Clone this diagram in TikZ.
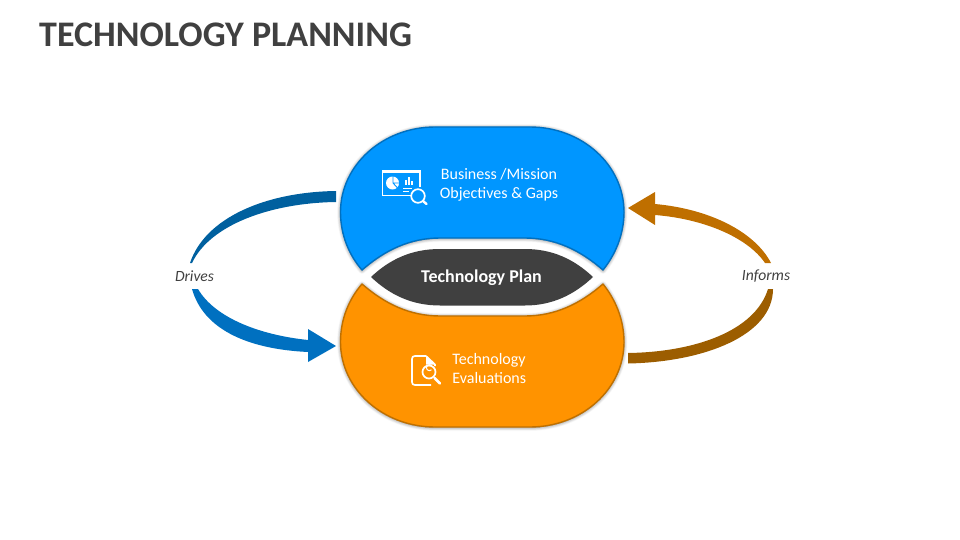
\documentclass[tikz,border=0pt]{standalone}
\usepackage{fontspec}
\setmainfont{Carlito}
\usetikzlibrary{shadows.blur}
\definecolor{ink}{HTML}{404040}
\definecolor{skyfill}{HTML}{0096FF}
\definecolor{skyline}{HTML}{0070C0}
\definecolor{ambfill}{HTML}{FF9300}
\definecolor{ambline}{HTML}{BF7000}
\definecolor{arrA}{HTML}{00609F}
\definecolor{arrB}{HTML}{0070C0}
\definecolor{arrC}{HTML}{BF6F00}
\definecolor{arrD}{HTML}{9C5D00}
\tikzset{
  softshadow/.style={blur shadow={shadow xshift=0pt,shadow yshift=-0.5pt,shadow blur radius=3.5pt,shadow blur steps=7,shadow opacity=55}},
  lobe/.style={line width=1.4pt,line join=round,softshadow},
  lbl/.style={text=white,font=\fontsize{16}{19}\selectfont,inner sep=0pt},
  verb/.style={text=ink,font=\fontsize{15.6}{18}\selectfont\itshape,inner sep=0pt},
  ico/.style={draw=white,line width=1.7pt,fill=none}
}
\begin{document}
\begin{tikzpicture}[x=1pt,y=-1pt]
\useasboundingbox (0,0) rectangle (960,540);
\node[anchor=west,text=ink,inner sep=0pt,font=\fontsize{36}{42}\selectfont\bfseries] (title) at (39,34.500) {TECHNOLOGY PLANNING};

% lobes
\path[lobe,fill=skyfill,draw=skyline] (435,127) -- (530,127)
  .. controls (582,127) and (624,165) .. (624,212)
  .. controls (624,235) and (615,255) .. (603,270)
  .. controls (580,250) and (555,238) .. (525,238)
  -- (440,238)
  .. controls (410,238) and (385,250) .. (362,270)
  .. controls (349,255) and (340.500,235) .. (340.500,212)
  .. controls (340.500,165) and (383,127) .. (435,127) -- cycle;
\path[lobe,fill=ambfill,draw=ambline] (435,427) -- (530,427)
  .. controls (582,427) and (624,389) .. (624,342)
  .. controls (624,319) and (615,299) .. (603,284)
  .. controls (580,304) and (555,316) .. (525,316)
  -- (440,316)
  .. controls (410,316) and (385,304) .. (362,284)
  .. controls (349,299) and (340.500,319) .. (340.500,342)
  .. controls (340.500,389) and (383,427) .. (435,427) -- cycle;
\fill[ink] (371,277)
  .. controls (390,259) and (412,249) .. (440,249) -- (525,249)
  .. controls (552,249) and (574,259) .. (593,277)
  .. controls (574,295) and (552,305.500) .. (525,305.500) -- (440,305.500)
  .. controls (412,305.500) and (390,295) .. (371,277) -- cycle;

% labels
\node[lbl,align=center] (biz) at (499,184.500) {Business /Mission\\Objectives \& Gaps};
\node[lbl,align=left] (eva) at (489.300,368.500) {Technology\\Evaluations};
\node[text=white,inner sep=0pt,font=\fontsize{18}{21}\selectfont\bfseries] (plan) at (481.500,277.500) {Technology Plan};
\node[verb] (drives) at (194.500,276) {Drives};
\node[verb] (informs) at (766,276.500) {Informs};

% tapered arrows
\fill[arrA] (336,191) .. controls (265,192) and (205,218) .. (190,263)
  -- (192,263) .. controls (210,225) and (270,203) .. (336,202) -- cycle;
\fill[arrB] (198,289) .. controls (215,318) and (260,335) .. (308,340)
  -- (308,329) -- (336,346) -- (308,362) -- (308,352)
  .. controls (245,349) and (203,328) .. (192,289) -- cycle;
\fill[arrD] (628,353) .. controls (695,352) and (755,331) .. (768,289)
  -- (773,289) .. controls (773,335) and (705,362) .. (628,363.500) -- cycle;
\fill[arrC] (771,263) .. controls (755,232) and (710,209) .. (655,204)
  -- (655,192) -- (628,208) -- (655,225) -- (655,215)
  .. controls (705,219) and (748,238) .. (765,263) -- cycle;

% monitor icon
\draw[ico,line width=1.3pt] (412,195.500) -- (382.500,195.500) -- (382.500,171) -- (420,171) -- (420,187);
\draw[white,line width=2.2pt] (382,171.500) -- (420.600,171.500);
\fill[white] (392.500,183) circle[radius=6.500];
\draw[skyfill,line width=0.9pt] (393,175.500) -- (393,183) -- (400.500,183) (393,183) -- (398,188.500);
\foreach \bx/\bh in {404.500/5,407.500/8,410.500/4}{\fill[white] (\bx,185) rectangle ++(2,-\bh);}
\fill[white] (403,188) rectangle (412,189);
\fill[white] (403,191) rectangle (409,192);
\draw[white,line width=1.7pt,fill=skyfill] (418,196) circle[radius=6.800];
\draw[white,line width=2.4pt,line cap=round] (423,201) -- (426.500,204);

% document icon
\draw[ico,line join=round] (426,356) -- (415,356) .. controls (413,356) and (412,357) .. (412,359)
  -- (412,382) .. controls (412,384) and (413,385) .. (415,385) -- (431,385);
\draw[ico,line join=round] (426,356) -- (435,364.500) -- (435,366);
\fill[white] (426,356) -- (435,364.500) -- (426,364.500) -- cycle;
\draw[white,line width=1.7pt,fill=ambfill] (429,372) circle[radius=6.500];
\draw[white,line width=1pt] (431.500,369.800) arc[start angle=45,end angle=315,radius=3];
\draw[white,line width=2.8pt,line cap=round] (434.500,378) -- (440,383.500);
\end{tikzpicture}
\end{document}
